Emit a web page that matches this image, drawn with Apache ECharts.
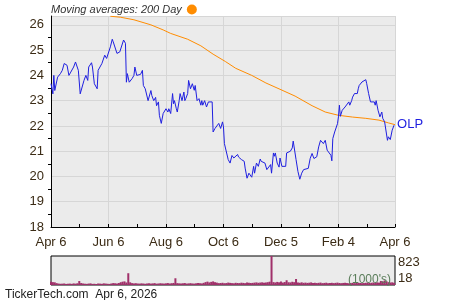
<!DOCTYPE html>
<html><head><meta charset="utf-8">
<script src="https://cdn.jsdelivr.net/npm/echarts@6/dist/echarts.min.js"></script>
<style>html,body{margin:0;padding:0;background:#fff}#c{width:450px;height:300px}</style>
</head><body><div id="c"></div>
<script>
const tickLabels = ['Apr 6','Jun 6','Aug 6','Oct 6','Dec 5','Feb 4','Apr 6'];
const yTicks = [18,19,20,21,22,23,24,25,26];
const priceDays = [0,2,3,4,7,10,12,13,14,17,
 19,21,24,26,29,31,33,35,37,39,
 40,43,44,46,49,50,52,54,56,57,
 59,61,63,65,66,68,70,72,73,75,
 77,79,80,81,83,86,88,89,91,95,
 97,98,100,103,106,107,109,111,112,114,
 115,117,119,121,122,124,125,127,129,130,
 131,133,134,136,137,139,141,142,143,145,
 146,148,150,152,153,155,157,159,160,161,
 163,165,167,169,171,172,174,176,178,180,
 182,183,184,188,190,192,194,196,198,199,
 201,202,205,206,208,210,212,213,215,216,
 218,220,222,223,225,227,228,229,231,233,
 234,236,237,238,240,242,243,245,249,250,
 252,254,256,257,258,260,262,264,266,268,
 270,273,275,277,279,281,282,284,286,288,
 289,291,293,295,297,298,299,301,304,305,
 306,307,309,311,312,314,316,317,319,320,
 322,323,325,326,327,329,330,332,334,335,
 337,339,341,343,344,345,347,349,351,352,
 354,355,357,358,360,362,364];
const priceValues = [23.67,23.27,24.0,23.4,23.93,24.07,24.2,24.13,24.47,24.4,
 24.0,24.13,24.33,24.53,24.2,23.27,23.2,23.8,24.0,23.8,
 24.33,24.5,24.33,23.67,23.47,24.2,24.27,24.47,24.53,24.8,
 24.67,24.6,25.13,25.43,25.33,25.33,24.87,24.8,24.93,24.87,
 25.4,25.27,23.73,24.07,23.73,23.87,24.0,24.33,24.0,24.04,
 24.2,23.6,23.47,23.0,23.4,23.2,23.0,23.13,22.8,22.95,
 22.42,22.1,22.49,22.55,22.68,22.55,22.68,22.49,23.28,22.88,
 23.0,22.68,22.55,23.0,23.28,23.0,23.34,23.0,23.08,23.28,
 23.8,23.47,23.67,23.41,23.6,23.0,23.08,22.82,23.0,22.82,
 23.0,22.75,22.95,22.88,22.95,21.76,21.9,21.96,22.1,21.9,
 22.16,21.96,21.3,20.67,20.53,20.83,20.73,20.73,20.87,20.77,
 20.83,20.67,20.6,20.33,19.93,20.13,20.07,19.97,20.4,20.13,
 20.53,20.4,20.69,20.6,20.6,20.53,20.47,20.27,20.2,20.47,
 20.13,20.93,20.8,20.93,20.53,20.37,20.73,20.4,20.4,20.93,
 20.96,21.0,21.13,21.4,21.33,20.67,20.2,19.89,20.13,20.27,
 20.33,20.32,20.71,20.91,20.71,20.78,20.78,21.17,21.43,21.5,
 21.3,21.43,21.04,21.1,20.84,20.62,21.5,21.76,22.09,22.36,
 22.82,22.38,22.62,22.55,22.75,22.75,22.95,22.82,23.0,23.14,
 23.28,23.34,23.28,23.47,23.6,23.54,23.74,23.7,23.83,23.67,
 23.28,22.95,22.88,22.95,22.82,23.0,22.62,22.36,22.55,22.3,
 22.16,22.09,21.43,21.57,21.46,21.83,22.03];
const maDays = [63,74,88,106,119,127,145,159,172,185,196,213,228,243,259,277,291,305,320,334,348,358,365];
const maValues = [26.34,26.3,26.2,26.0,25.8,25.66,25.43,25.17,24.84,24.55,24.28,24.0,23.7,23.45,23.18,22.8,22.55,22.42,22.35,22.3,22.23,22.12,22.05];
const volumeStep = 2; // one bar every 2 calendar days
const volumeValues = [105,98,92,70,58,52,55,60,48,53,
 57,50,62,55,66,128,72,60,54,50,
 58,63,49,52,45,60,56,51,64,58,
 52,48,60,71,66,58,74,95,110,118,
 88,345,92,70,62,68,60,57,64,59,
 52,61,66,58,63,70,55,60,67,62,
 58,64,72,60,68,75,205,70,64,60,
 66,72,58,63,69,61,57,66,73,68,
 62,78,98,112,90,105,118,96,84,70,
 74,80,68,72,85,77,70,66,79,74,
 71,82,76,69,88,80,73,77,84,90,
 79,86,92,81,88,96,110,823,98,88,
 104,92,115,86,100,150,94,90,108,96,
 185,88,80,92,78,84,76,82,90,74,
 80,72,78,85,70,76,82,68,74,79,
 71,77,84,73,69,75,80,72,66,74,
 78,70,76,82,74,68,72,79,86,75,
 80,88,76,92,84,130,118,145,122,96,
 88,92,80];
const volMin = 18, volMax = 823;

const FONT = 'Arial, "Liberation Sans", sans-serif';
const LBL = '#3b2b15';
const chart = echarts.init(document.getElementById('c'), null, {renderer:'canvas'});
chart.setOption({
  animation:false,
  backgroundColor:'#fff',
  legend:{show:true, left:46, top:-1, align:'right', icon:'circle', itemWidth:10, itemHeight:10, itemGap:4,
    data:['Moving averages: 200 Day'],
    textStyle:{fontFamily:FONT, fontSize:11, fontStyle:'italic', color:'#333'}},
  grid:[
    {left:51, top:16, width:344, height:211, show:true, backgroundColor:'#ebebeb', borderWidth:0},
    {left:51, top:256, width:344, height:29, show:true, backgroundColor:'#ebebeb', borderColor:'#000', borderWidth:1}
  ],
  xAxis:[
    {type:'value', gridIndex:0, min:0, max:365, interval:61,
     axisLine:{show:true, lineStyle:{color:'#000', width:1}},
     axisTick:{show:true, inside:true, length:3, lineStyle:{color:'#000'}},
     minorTick:{show:true, splitNumber:2, length:3, lineStyle:{color:'#000'}},
     splitLine:{show:true, lineStyle:{color:'#d6d6d6', width:1}},
     axisLabel:{color:LBL, fontFamily:FONT, fontSize:13, margin:9,
       formatter:(v)=>tickLabels[Math.round(v/61)] || ''}},
    {type:'value', gridIndex:1, min:0, max:365, show:false}
  ],
  yAxis:[
    {type:'value', gridIndex:0, min:18, max:26.35, interval:1,
     axisLine:{show:true, lineStyle:{color:'#000', width:1}},
     axisTick:{show:false},
     minorTick:{show:true, splitNumber:2, length:3, lineStyle:{color:'#000'}},
     splitLine:{show:true, lineStyle:{color:'#d6d6d6', width:1}},
     axisLabel:{color:LBL, fontFamily:FONT, fontSize:13, margin:7,
       formatter:(v)=> yTicks.includes(Math.round(v*100)/100) ? String(v) : ''}},
    {type:'value', gridIndex:1, min:volMin, max:volMax, interval:volMax-volMin, position:'right',
     axisLine:{show:false}, axisTick:{show:false}, splitLine:{show:false},
     axisLabel:{color:LBL, fontFamily:FONT, fontSize:13, margin:3,
       verticalAlignMaxLabel:'top', verticalAlignMinLabel:'bottom'}}
  ],
  series:[
    {name:'OLP', type:'line', xAxisIndex:0, yAxisIndex:0, showSymbol:false, symbol:'none',
     data:priceDays.map((d,i)=>[d, priceValues[i]]),
     lineStyle:{color:'#1f1fe0', width:1}, itemStyle:{color:'#1f1fe0'},
     endLabel:{show:true, formatter:'OLP', color:'#1f1fe0', fontFamily:FONT, fontSize:13, distance:3, offset:[0,-1]}, z:3},
    {name:'Moving averages: 200 Day', type:'line', xAxisIndex:0, yAxisIndex:0, showSymbol:false, symbol:'none',
     data:maDays.map((d,i)=>[d, maValues[i]]),
     lineStyle:{color:'#ff8c00', width:1}, itemStyle:{color:'#ff8c00'}, z:2},
    {name:'Volume', type:'bar', xAxisIndex:1, yAxisIndex:1, barWidth:2,
     data:volumeValues.map((v,i)=>[i*volumeStep, v]),
     itemStyle:{color:'#a0306a'}}
  ],
  graphic:[
    {type:'text', left:348, top:274, z:10, style:{text:"(1000's)", fill:'#5a7d5a', font:'12px '+FONT}},
    {type:'text', left:5, top:289, style:{text:'TickerTech.com  Apr 6, 2026', fill:'#222', font:'12px '+FONT}}
  ]
});
</script></body></html>
